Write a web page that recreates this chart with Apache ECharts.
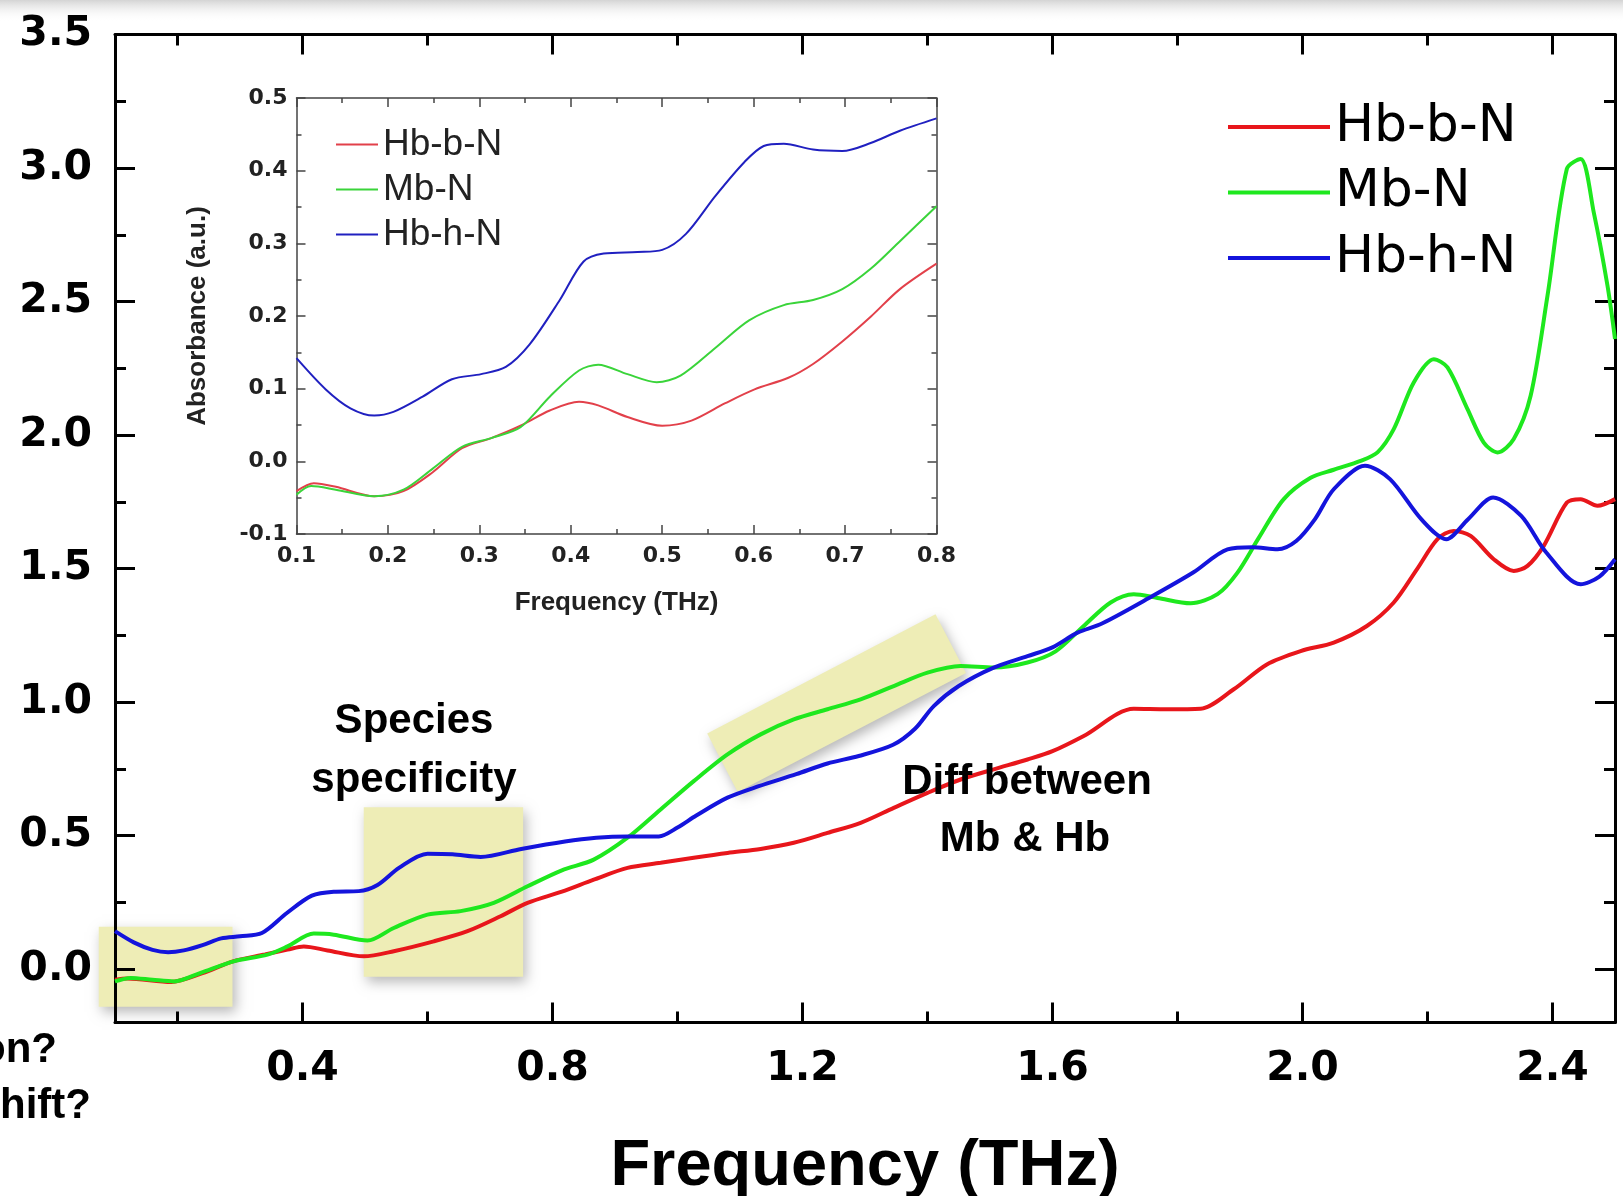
<!DOCTYPE html>
<html>
<head>
<meta charset="utf-8">
<script src="https://cdn.jsdelivr.net/npm/echarts@6/dist/echarts.min.js"></script>
<style>
html, body { margin: 0; padding: 0; background: #fff; }
#chart { width: 1623px; height: 1196px; }
</style>
</head>
<body>
<div id="chart"></div>
<script>
// series names
var seriesNames = ['Hb-b-N', 'Mb-N', 'Hb-h-N'];
var insetNames = ['inset Hb-b-N', 'inset Mb-N', 'inset Hb-h-N'];

// main chart, [frequency THz, absorbance]
var hbbN = [[0.10,-0.04],[0.12,-0.035],[0.19,-0.048],[0.24,-0.015],[0.29,0.03],[0.34,0.055],[0.376,0.073],[0.402,0.085],[0.44,0.07],[0.498,0.048],[0.546,0.067],[0.61,0.104],[0.664,0.142],[0.717,0.198],[0.76,0.248],[0.815,0.29],[0.866,0.335],[0.92,0.379],[0.973,0.398],[1.026,0.417],[1.08,0.435],[1.133,0.45],[1.186,0.473],[1.24,0.51],[1.293,0.548],[1.346,0.604],[1.40,0.66],[1.453,0.71],[1.506,0.748],[1.56,0.785],[1.60,0.816],[1.65,0.873],[1.73,0.975],[1.783,0.973],[1.837,0.975],[1.89,1.048],[1.943,1.141],[1.997,1.191],[2.05,1.223],[2.103,1.285],[2.146,1.373],[2.183,1.497],[2.216,1.61],[2.242,1.641],[2.269,1.622],[2.306,1.535],[2.338,1.491],[2.36,1.51],[2.386,1.585],[2.423,1.747],[2.445,1.76],[2.472,1.735],[2.50,1.76]];
var mbN = [[0.10,-0.046],[0.125,-0.033],[0.16,-0.04],[0.195,-0.046],[0.237,-0.014],[0.29,0.029],[0.344,0.054],[0.376,0.085],[0.418,0.133],[0.45,0.129],[0.504,0.107],[0.546,0.154],[0.60,0.204],[0.653,0.217],[0.706,0.248],[0.76,0.31],[0.815,0.37],[0.866,0.41],[0.92,0.492],[0.973,0.598],[1.026,0.704],[1.08,0.804],[1.133,0.879],[1.186,0.935],[1.24,0.973],[1.293,1.01],[1.346,1.06],[1.40,1.11],[1.453,1.135],[1.506,1.129],[1.56,1.148],[1.605,1.19],[1.65,1.285],[1.693,1.373],[1.73,1.404],[1.768,1.39],[1.821,1.37],[1.864,1.404],[1.896,1.485],[1.93,1.615],[1.97,1.76],[2.013,1.84],[2.05,1.87],[2.093,1.903],[2.12,1.935],[2.146,2.022],[2.178,2.197],[2.21,2.284],[2.232,2.253],[2.264,2.097],[2.29,1.972],[2.312,1.935],[2.338,1.985],[2.365,2.147],[2.392,2.522],[2.423,2.997],[2.445,3.034],[2.466,2.834],[2.488,2.559],[2.50,2.36]];
var hbhN = [[0.10,0.142],[0.13,0.10],[0.16,0.072],[0.185,0.063],[0.21,0.07],[0.24,0.09],[0.27,0.115],[0.30,0.123],[0.335,0.135],[0.375,0.21],[0.415,0.275],[0.45,0.29],[0.49,0.292],[0.52,0.315],[0.555,0.38],[0.60,0.432],[0.64,0.43],[0.685,0.42],[0.75,0.45],[0.82,0.478],[0.87,0.492],[0.92,0.497],[0.97,0.497],[1.00,0.53],[1.03,0.575],[1.08,0.642],[1.13,0.685],[1.19,0.73],[1.24,0.77],[1.29,0.798],[1.345,0.84],[1.38,0.9],[1.41,0.985],[1.45,1.06],[1.505,1.128],[1.56,1.172],[1.60,1.205],[1.64,1.26],[1.68,1.295],[1.76,1.397],[1.825,1.485],[1.88,1.572],[1.92,1.58],[1.96,1.572],[1.99,1.603],[2.02,1.685],[2.05,1.797],[2.10,1.885],[2.14,1.835],[2.19,1.685],[2.23,1.61],[2.265,1.685],[2.305,1.766],[2.35,1.697],[2.39,1.56],[2.445,1.441],[2.475,1.47],[2.50,1.535]];

// inset chart
var insetHbbN = [[0.10,-0.041],[0.119,-0.03],[0.143,-0.035],[0.185,-0.048],[0.217,-0.041],[0.249,-0.015],[0.281,0.018],[0.313,0.032],[0.345,0.049],[0.377,0.07],[0.409,0.082],[0.43,0.077],[0.462,0.061],[0.50,0.049],[0.532,0.056],[0.569,0.08],[0.601,0.099],[0.638,0.115],[0.665,0.134],[0.697,0.165],[0.728,0.199],[0.76,0.237],[0.80,0.272]];
var insetMbN = [[0.10,-0.046],[0.116,-0.034],[0.143,-0.039],[0.185,-0.048],[0.217,-0.039],[0.249,-0.01],[0.281,0.02],[0.313,0.032],[0.345,0.047],[0.377,0.089],[0.409,0.125],[0.43,0.133],[0.462,0.12],[0.494,0.109],[0.52,0.118],[0.558,0.156],[0.595,0.194],[0.633,0.215],[0.665,0.222],[0.697,0.237],[0.728,0.265],[0.76,0.303],[0.80,0.351]];
var insetHbhN = [[0.10,0.142],[0.132,0.099],[0.159,0.073],[0.185,0.063],[0.206,0.068],[0.238,0.089],[0.27,0.113],[0.302,0.12],[0.329,0.13],[0.355,0.161],[0.388,0.222],[0.414,0.275],[0.436,0.286],[0.473,0.288],[0.50,0.291],[0.526,0.313],[0.558,0.365],[0.59,0.412],[0.611,0.434],[0.633,0.437],[0.665,0.429],[0.697,0.427],[0.728,0.438],[0.76,0.455],[0.80,0.472]];

// tick values of the main chart
var xMajorTicks = [0.4, 0.8, 1.2, 1.6, 2.0, 2.4];
var xMinorTicks = [0.2, 0.6, 1.0, 1.4, 1.8, 2.2];
var yMajorTicks = [0, 0.5, 1.0, 1.5, 2.0, 2.5, 3.0, 3.5];
var yMinorTicks = [0.25, 0.75, 1.25, 1.75, 2.25, 2.75, 3.25];

// highlighted regions, corners in data units
var highlightBoxes = [
    [[0.074, 0.159], [0.288, 0.159], [0.288, -0.141], [0.074, -0.141]],
    [[0.498, 0.606], [0.753, 0.606], [0.753, -0.029], [0.498, -0.029]],
    [[1.0475, 0.882], [1.4128, 1.329], [1.4616, 1.109], [1.0963, 0.663]]
];

var colors = ['#e8161b', '#1ee81e', '#1414dc'];
var insetColors = ['#e2404a', '#3ad43a', '#2020c0'];

function fmt(v) { return Number(v).toFixed(1); }

var chart = echarts.init(document.getElementById('chart'));

var mainLine = { show: true, onZero: false, lineStyle: { color: '#000', width: 3 } };
var insetLine = { show: true, onZero: false, lineStyle: { color: '#444', width: 1.5 } };
var mainLabel = { color: '#000', fontFamily: 'DejaVu Sans', fontWeight: 'bold', fontSize: 41 };
var insetLabel = { color: '#222', fontFamily: 'DejaVu Sans', fontWeight: 'bold', fontSize: 22 };

function mainX(pos, ticks, len, line, labels) {
    return {
        type: 'value', gridIndex: 0, position: pos, min: 0.1, max: 2.5,
        axisLine: line ? mainLine : { show: false, onZero: false },
        axisTick: { show: true, inside: true, length: len, customValues: ticks, lineStyle: { color: '#000', width: 3 } },
        axisLabel: labels ? Object.assign({ show: true, customValues: ticks, formatter: fmt, margin: 26 }, mainLabel) : { show: false },
        splitLine: { show: false }
    };
}
function mainY(pos, ticks, len, line, labels) {
    return {
        type: 'value', gridIndex: 0, position: pos, min: -0.2, max: 3.5,
        axisLine: line ? mainLine : { show: false, onZero: false },
        axisTick: { show: true, inside: true, length: len, customValues: ticks, lineStyle: { color: '#000', width: 3 } },
        axisLabel: labels ? Object.assign({ show: true, customValues: ticks, formatter: fmt, margin: 23 }, mainLabel) : { show: false },
        splitLine: { show: false }
    };
}
function insetAxis(dim, pos, labels) {
    var ax = {
        type: 'value', gridIndex: 1, position: pos,
        axisLine: insetLine,
        axisTick: { show: true, inside: true, length: 9, lineStyle: { color: '#444', width: 1.5 } },
        minorTick: { show: true, splitNumber: 2, length: 5, lineStyle: { color: '#444', width: 1.5 } },
        axisLabel: labels ? Object.assign({ show: true, formatter: fmt, margin: dim === 'x' ? 11 : 9 }, insetLabel) : { show: false },
        splitLine: { show: false },
        interval: 0.1
    };
    if (dim === 'x') { ax.min = 0.1; ax.max = 0.8; } else { ax.min = -0.1; ax.max = 0.5; }
    return ax;
}

var xMain = mainX('bottom', xMajorTicks, 20, true, true);
xMain.name = 'Frequency (THz)';
xMain.nameLocation = 'middle';
xMain.nameGap = 112;
xMain.nameTextStyle = { fontFamily: 'Liberation Sans', fontWeight: 'bold', fontSize: 65, color: '#000' };

var xInset = insetAxis('x', 'bottom', true);
xInset.name = 'Frequency (THz)';
xInset.nameLocation = 'middle';
xInset.nameGap = 56;
xInset.nameTextStyle = { fontFamily: 'Liberation Sans', fontWeight: 'bold', fontSize: 26, color: '#222' };

var yInset = insetAxis('y', 'left', true);
yInset.name = 'Absorbance (a.u.)';
yInset.nameLocation = 'middle';
yInset.nameGap = 86;
yInset.nameTextStyle = { fontFamily: 'Liberation Sans', fontWeight: 'bold', fontSize: 26, color: '#222' };

function lineSeries(name, data, color, width, axis) {
    return {
        name: name, type: 'line', data: data, xAxisIndex: axis, yAxisIndex: axis,
        smooth: 0.3, symbol: 'none', showSymbol: false, color: color,
        lineStyle: { width: width, color: color }, z: 3
    };
}

var options = {
    animation: false,
    backgroundColor: '#fff',
    grid: [
        { left: 115, top: 34.5, width: 1500, height: 988, containLabel: false, outerBoundsMode: 'none' },
        { left: 296.5, top: 98, width: 640, height: 436, containLabel: false, outerBoundsMode: 'none' }
    ],
    xAxis: [
        xMain,
        mainX('top', xMajorTicks, 20, true, false),
        mainX('bottom', xMinorTicks, 11, false, false),
        mainX('top', xMinorTicks, 11, false, false),
        xInset,
        insetAxis('x', 'top', false)
    ],
    yAxis: [
        mainY('left', yMajorTicks, 20, true, true),
        mainY('right', yMajorTicks, 20, true, false),
        mainY('left', yMinorTicks, 11, false, false),
        mainY('right', yMinorTicks, 11, false, false),
        yInset,
        insetAxis('y', 'right', false)
    ],
    legend: [
        {
            data: seriesNames, orient: 'vertical', left: 1223, top: 96,
            itemWidth: 102, itemHeight: 4, itemGap: 13.5, icon: 'rect', selectedMode: false,
            textStyle: { fontFamily: 'DejaVu Sans', fontSize: 52, lineHeight: 52, color: '#000', padding: [0, 0, 0, 0] }
        },
        {
            data: insetNames, orient: 'vertical', left: 331, top: 121,
            itemWidth: 42, itemHeight: 2, itemGap: 8, icon: 'rect', selectedMode: false,
            formatter: function (n) { return n.replace('inset ', ''); },
            textStyle: { fontFamily: 'Liberation Sans', fontSize: 37, lineHeight: 36, color: '#222' }
        }
    ],
    series: [
        lineSeries(seriesNames[0], hbbN, colors[0], 4, 0),
        lineSeries(seriesNames[1], mbN, colors[1], 4, 0),
        lineSeries(seriesNames[2], hbhN, colors[2], 4, 0),
        lineSeries(insetNames[0], insetHbbN, insetColors[0], 2, 4),
        lineSeries(insetNames[1], insetMbN, insetColors[1], 2, 4),
        lineSeries(insetNames[2], insetHbhN, insetColors[2], 2, 4)
    ]
};

chart.setOption(options);

// annotations, placed after the axes exist
var graphics = [];
graphics.push({
    type: 'rect', z: -20, silent: true,
    shape: { x: 0, y: 0, width: 1623, height: 22 },
    style: { fill: new echarts.graphic.LinearGradient(0, 0, 0, 1, [
        { offset: 0, color: '#d4d4d4' }, { offset: 1, color: 'rgba(255,255,255,0)' }
    ]) }
});
highlightBoxes.forEach(function (box) {
    var pts = box.map(function (p) {
        return chart.convertToPixel({ xAxisIndex: 0, yAxisIndex: 0 }, p);
    });
    graphics.push({
        type: 'polygon', z: -10, silent: true,
        shape: { points: pts },
        style: { fill: '#eeedb6', shadowBlur: 12, shadowColor: 'rgba(0,0,0,0.28)', shadowOffsetX: 3, shadowOffsetY: 5 }
    });
});

function note(text, x, y, align) {
    return {
        type: 'text', z: 100, silent: true, x: x, y: y,
        style: {
            text: text, fill: '#000', font: 'bold 42px "Liberation Sans"',
            textAlign: align || 'center', textVerticalAlign: 'middle'
        }
    };
}
graphics.push(note('Species', 414, 721));
graphics.push(note('specificity', 414, 780));
graphics.push(note('Diff between', 1027, 782));
graphics.push(note('Mb & Hb', 1025, 839));
graphics.push(note('on?', 57, 1050, 'right'));
graphics.push(note('hift?', 91, 1106, 'right'));

chart.setOption({ graphic: graphics });

window.onresize = function () {
    chart.resize();
};
</script>
</body>
</html>
